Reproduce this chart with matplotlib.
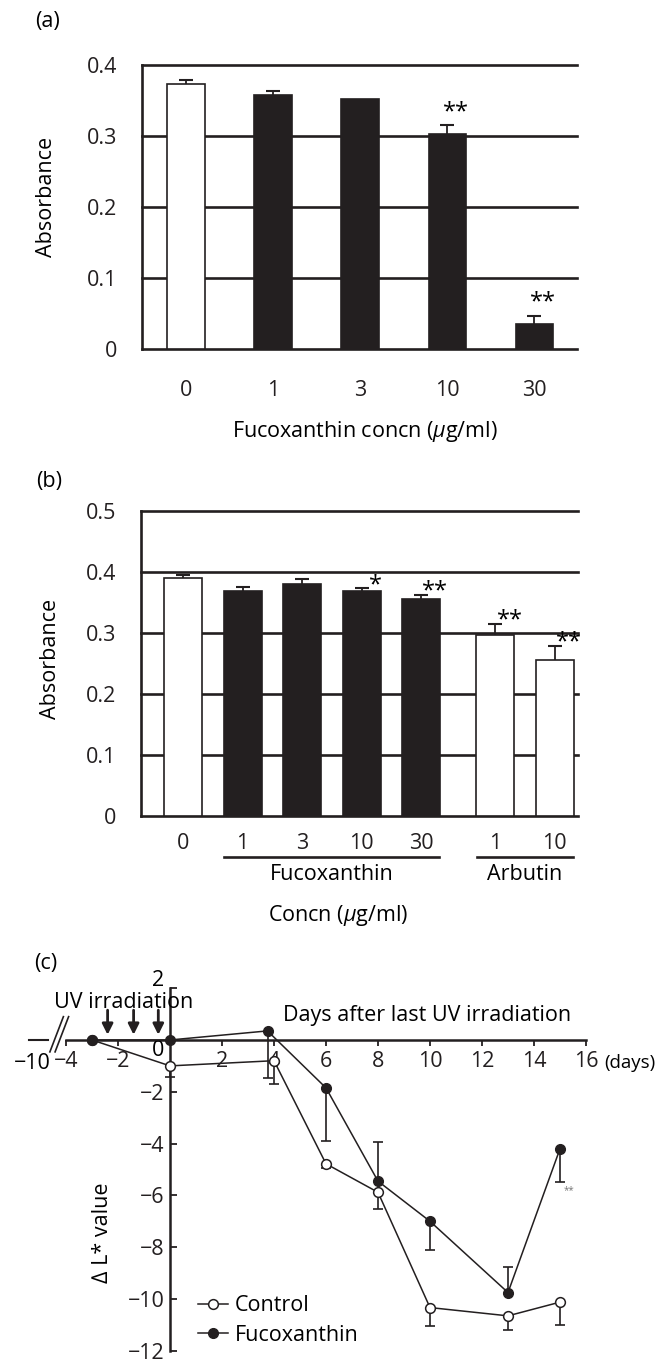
import numpy as np
import matplotlib
matplotlib.use("Agg")
from matplotlib import pyplot as plt
from matplotlib.transforms import blended_transform_factory

# ---- data (a) ----
conc_a = ["0", "1", "3", "10", "30"]
group_a = ["control", "fuco", "fuco", "fuco", "fuco"]
absorb_a = [0.373, 0.358, 0.352, 0.303, 0.035]
err_a = [0.006, 0.006, 0.0, 0.012, 0.012]
sig_a = ["", "", "", "**", "**"]

# ---- data (b) ----
conc_b = ["0", "1", "3", "10", "30", "1", "10"]
group_b = ["control", "fuco", "fuco", "fuco", "fuco", "arbutin", "arbutin"]
absorb_b = [0.390, 0.369, 0.380, 0.369, 0.355, 0.296, 0.256]
err_b = [0.005, 0.006, 0.008, 0.004, 0.007, 0.019, 0.023]
sig_b = ["", "", "", "*", "**", "**", "**"]

# ---- data (c) ----
days_ctrl = [-3, 0, 4, 6, 8, 10, 13, 15]
dL_ctrl = [0.0, -1.0, -0.8, -4.78, -5.88, -10.33, -10.65, -10.12]
ctrl_err_lo = [0.0, 0.42, 0.9, 0.15, 0.64, 0.7, 0.55, 0.9]
ctrl_err_hi = [0, 0, 0, 0, 0, 0, 0, 0]

days_fuco = [-3, 0, 3.75, 6, 8, 10, 13, 15]
dL_fuco = [0.0, 0.0, 0.35, -1.85, -5.45, -7.0, -9.75, -4.2]
fuco_err_lo = [0, 0, 1.8, 2.05, 0, 1.12, 0, 1.28]
fuco_err_hi = [0, 0, 0, 0, 1.5, 0, 0.98, 0]

uv_days = [-2.4, -1.4, -0.45]

plt.rcParams["font.family"] = ["Open Sans", "DejaVu Sans"]
plt.rcParams["font.size"] = 15.5
plt.rcParams["mathtext.fontset"] = "custom"
plt.rcParams["mathtext.it"] = "Open Sans:italic"
plt.rcParams["mathtext.rm"] = "Open Sans"

ink = "#231f20"
W, H = 664.0, 1363.0

def frac(x0, y0, x1, y1):
    # pixel box -> figure fraction [left, bottom, width, height]
    return [x0 / W, 1 - y1 / H, (x1 - x0) / W, (y1 - y0) / H]

def bar_panel(ax, pos, vals, errs, groups, width, ymax):
    colors = [ink if g == "fuco" else "white" for g in groups]
    ax.bar(pos, vals, width=width, color=colors, edgecolor=ink, linewidth=1.2, zorder=3)
    for v in np.arange(0.1, ymax + 0.01, 0.1):
        ax.axhline(v, color=ink, lw=1.9, zorder=1, clip_on=False)
    vals = np.array(vals)
    errs = np.array(errs)
    m = errs > 0
    ax.vlines(pos[m], vals[m], vals[m] + errs[m], color=ink, lw=1.3, zorder=4)
    ax.plot(pos[m], vals[m] + errs[m], ls="none", marker="_", ms=10, mew=1.5, color=ink, zorder=4)
    for s in ["top", "right"]:
        ax.spines[s].set_visible(False)
    for s in ["left", "bottom"]:
        ax.spines[s].set_linewidth(1.9)
        ax.spines[s].set_color(ink)
    ax.set_ylim(0, ymax)
    yt = np.round(np.arange(0, ymax + 0.01, 0.1), 1)
    ax.set_yticks(yt)
    ax.set_yticklabels(["0"] + ["%.1f" % v for v in yt[1:]])
    ax.tick_params(axis="y", length=0, pad=18, colors=ink)

fig = plt.figure(figsize=(W / 100, H / 100), dpi=100)

# ---------------- (a) ----------------
ax1 = fig.add_axes(frac(142, 65, 577, 349))
pos_a = np.arange(len(conc_a), dtype=float)
bar_panel(ax1, pos_a, absorb_a, err_a, group_a, 0.43, 0.4)
ax1.set_xlim(-0.506, 4.49)
ax1.set_xticks(pos_a)
ax1.set_xticklabels(conc_a)
ax1.tick_params(axis="x", length=0, pad=22, colors=ink)
for p, v, e, s in zip(pos_a, absorb_a, err_a, sig_a):
    if s:
        ax1.text(p + 0.1, v + e + 0.002, s, ha="center", va="bottom", fontsize=17)
fig.text(47 / W, 1 - 197 / H, "Absorbance", rotation=90, ha="center", va="center")
fig.text(365 / W, 1 - 432 / H, r"Fucoxanthin concn ($\mathit{\mu}$g/ml)", ha="center", va="center")
fig.text(47 / W, 1 - 22 / H, "(a)", ha="center", va="center")

# ---------------- (b) ----------------
ax2 = fig.add_axes(frac(141, 511, 578, 816))
pos_b = np.arange(len(conc_b), dtype=float)
pos_b[np.array(group_b) == "arbutin"] += 0.25
bar_panel(ax2, pos_b, absorb_b, err_b, group_b, 0.64, 0.5)
ax2.set_xlim(-0.71, 6.64)
ax2.set_xticks(pos_b)
ax2.set_xticklabels(conc_b)
ax2.tick_params(axis="x", length=0, pad=12, colors=ink)
for p, v, e, s in zip(pos_b, absorb_b, err_b, sig_b):
    if s:
        ax2.text(p + 0.24, v + e - 0.014, s, ha="center", va="bottom", fontsize=17)
tr = blended_transform_factory(ax2.transData, fig.transFigure)
gy = 1 - 857 / H
for g, name in [("fuco", "Fucoxanthin"), ("arbutin", "Arbutin")]:
    gp = pos_b[np.array(group_b) == g]
    ax2.plot([gp.min() - 0.31, gp.max() + 0.31], [gy, gy], transform=tr, color=ink, lw=1.9, clip_on=False)
    ax2.text(gp.mean(), 1 - 874 / H, name, transform=tr, ha="center", va="center")
fig.text(50 / W, 1 - 659 / H, "Absorbance", rotation=90, ha="center", va="center")
fig.text(338 / W, 1 - 916 / H, r"Concn ($\mathit{\mu}$g/ml)", ha="center", va="center")
fig.text(49 / W, 1 - 482 / H, "(b)", ha="center", va="center")

# ---------------- (c) ----------------
ax3 = fig.add_axes(frac(14, 980.4, 586, 1358.6))
ax3.set_xlim(-6, 16)
ax3.set_ylim(-12.3, 2.3)
ax3.spines["top"].set_visible(False)
ax3.spines["right"].set_visible(False)
ax3.spines["left"].set_position(("data", 0))
ax3.spines["bottom"].set_position(("data", 0))
ax3.spines["left"].set_bounds(-12, 2)
ax3.spines["bottom"].set_bounds(-4, 16)
for s in ["left", "bottom"]:
    ax3.spines[s].set_linewidth(1.8)
    ax3.spines[s].set_color(ink)
    ax3.spines[s].set_zorder(1)

xt = [-4, -2, 0, 2, 4, 6, 8, 10, 12, 14, 16]
ax3.set_xticks(xt)
ax3.set_xticklabels(["\u22124", "\u22122", "", "2", "4", "6", "8", "10", "12", "14", "16"])
ax3.tick_params(axis="x", direction="out", length=4, width=1.3, pad=4, colors=ink)
yt = [2, 0, -2, -4, -6, -8, -10, -12]
ax3.set_yticks(yt)
ax3.set_yticklabels([str(v).replace("-", "\u2212") if v not in (0, 2) else "" for v in yt])
ax3.tick_params(axis="y", direction="in", length=5, width=1.3, pad=4, colors=ink)
ax3.text(-0.45, -0.42, "0", ha="center", va="center")
ax3.text(-0.45, 2.3, "2", ha="center", va="center")
ax3.text(16.7, -0.9, "(days)", ha="left", va="center", fontsize=13.5)

# axis break and the -10 day
ax3.plot([-5.42, -4.7], [0, 0], color=ink, lw=1.5, clip_on=False)
ax3.text(-5.3, -0.9, "\u221210", ha="center", va="center")
for dx in [0, 0.2]:
    ax3.plot([-4.62 + dx, -4.1 + dx], [-0.46, 0.9], color=ink, lw=1.2)

# error bars
for d, v, lo, hi in [(days_ctrl, dL_ctrl, ctrl_err_lo, ctrl_err_hi),
                     (days_fuco, dL_fuco, fuco_err_lo, fuco_err_hi)]:
    d = np.array(d); v = np.array(v); lo = np.array(lo); hi = np.array(hi)
    for e, sgn in [(lo, -1), (hi, 1)]:
        m = e > 0
        ax3.vlines(d[m], v[m], v[m] + sgn * e[m], color=ink, lw=1.2, zorder=2)
        ax3.plot(d[m], v[m] + sgn * e[m], ls="none", marker="_", ms=7, mew=1.2, color=ink, zorder=2)

ax3.plot(days_ctrl, dL_ctrl, color=ink, lw=1.1, marker="o", ms=7, mfc="white",
         mec=ink, mew=1.1, zorder=3, label="Control")
ax3.plot(days_fuco, dL_fuco, color=ink, lw=1.1, marker="o", ms=7, mfc=ink,
         mec=ink, zorder=4, label="Fucoxanthin")
ax3.text(15.35, -5.8, "**", ha="center", va="center", fontsize=7, color="#777777")

for d in uv_days:
    ax3.annotate("", xy=(d, 0.2), xytext=(d, 1.15),
                 arrowprops=dict(arrowstyle="-|>", color=ink, lw=2, mutation_scale=16, shrinkA=0, shrinkB=0))
ax3.text(-1.8, 1.43, "UV irradiation", ha="center", va="center")
ax3.text(4.35, 0.93, "Days after last UV irradiation", ha="left", va="center")

ax3.legend(loc="upper left", bbox_to_anchor=(0.322, 0.168), frameon=False, handlelength=1.4,
           handletextpad=0.3, borderpad=0, borderaxespad=0, labelspacing=0.4)

fig.text(102 / W, 1 - 1233 / H, "\u2206 L* value", rotation=90, ha="center", va="center")
fig.text(46 / W, 1 - 963 / H, "(c)", ha="center", va="center")

plt.savefig("out.png", dpi=100)
